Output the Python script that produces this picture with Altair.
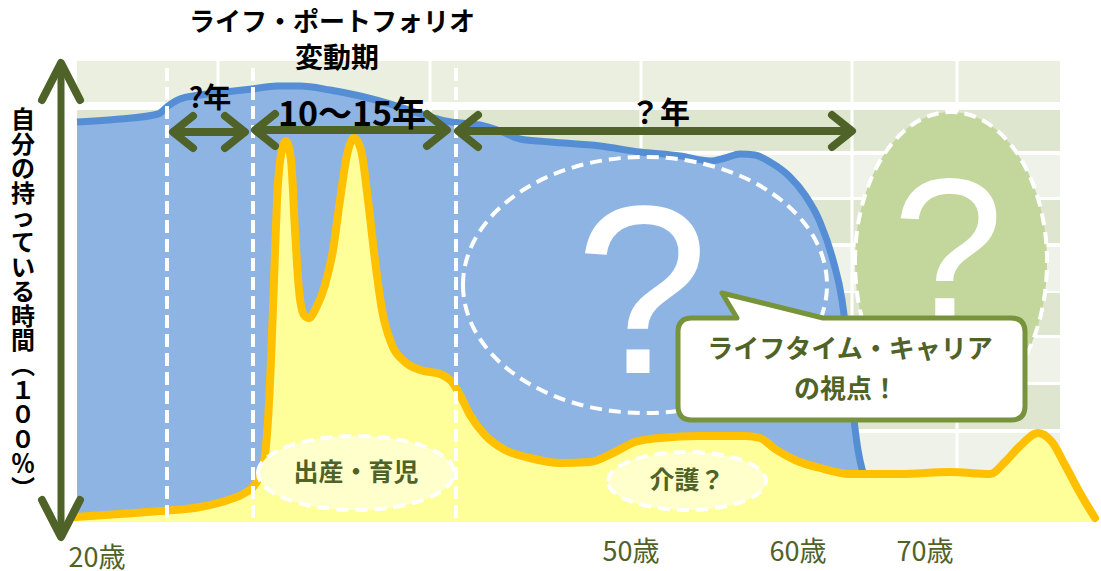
import altair as alt
import pandas as pd

W, H = 1101, 571

# ---------------- data (positions) ----------------
# background "brick" grid rows
row_top = [61, 110, 155, 200, 247, 293, 338, 385, 433, 478]
row_bottom = [102, 151, 197, 243, 291, 335, 382, 429, 475, 522]
row_shade = ["light", "dark", "pale", "dark", "pale", "dark", "pale", "dark", "pale", "dark"]
grid_left, grid_right = 77, 1060
joint_x = [218, 430, 641, 852, 957]

# blue area: "own time" envelope
blue_x = [77, 120, 158, 168, 180, 200, 225, 252, 277, 300, 330, 360, 400, 430, 445, 460,
          480, 500, 520, 550, 600, 640, 680, 710, 725, 740, 755, 770, 790, 805, 820, 833,
          842, 848, 853, 858, 863]
blue_y = [122, 119, 114, 106, 99, 95, 92, 89, 86, 86, 90, 96, 107, 117, 121, 123,
          125, 131, 139, 142, 146, 152, 156, 161, 158, 154, 155, 162, 177, 195, 222, 260,
          300, 350, 410, 450, 473]

# yellow area: life events curve
yellow_x = [75, 120, 160, 200, 228, 245, 253, 260, 265, 268, 271, 274, 277, 281, 286, 291,
            295, 299, 304, 309, 316, 325, 333, 340, 347, 354, 361, 368, 375, 382, 392, 405,
            420, 440, 452, 460, 470, 485, 505, 530, 560, 590, 615, 635, 660, 700, 745, 760,
            775, 795, 820, 850, 900, 950, 990, 1005, 1020, 1038, 1052, 1065, 1080, 1095]
yellow_y = [517, 514, 511, 507, 500, 493, 487, 475, 455, 420, 360, 280, 200, 155, 141, 160,
            230, 290, 315, 318, 308, 285, 250, 200, 155, 138, 150, 200, 260, 310, 345, 362,
            370, 374, 382, 395, 415, 435, 450, 458, 463, 462, 452, 442, 438, 436, 436, 438,
            449, 460, 468, 474, 474, 472, 474, 462, 446, 433, 442, 465, 493, 518]

# dashed period boundaries
period_x = [167, 253, 456]
period_top, period_bottom = 68, 520

# horizontal double arrows
arrow_left = [173, 255, 458]
arrow_right = [245, 447, 852]
arrow_y = [132, 130, 131]
arrow_labels = ["?年", "10～15年", "？年"]
arrow_label_x = [210, 352, 660]
arrow_label_y = [100, 116, 114]
arrow_label_size = [28, 34, 30]

# ellipses
big_q = {"x": [645], "y": [285]}
green_q = {"x": [951], "y": [262]}
birth = {"x": [356], "y": [473], "label": ["出産・育児"]}
care = {"x": [687], "y": [481], "label": ["介護？"]}

# speech bubble
bubble = {"x": [851.5], "y": [369]}
bubble_lines = ["ライフタイム・キャリア", "の視点！"]
bubble_line_x = [850, 846]
bubble_line_y = [350, 390]

# y axis arrow and label
yaxis_x = 61
yaxis_top, yaxis_bottom = 63, 537
ylabel = "自分の持っている時間︵１００％︶"
ylabel_top = 109

# x labels
age_labels = ["20歳", "50歳", "60歳", "70歳"]
age_x = [97, 631, 798, 925]
age_y = [559, 553, 553, 553]

title_lines = ["ライフ・ポートフォリオ", "変動期"]
title_x = [332, 337]
title_y = [23, 60]
title_size = [26, 28]

# ---------------- styles ----------------
OLIVE = "#4F6228"
OLIVE2 = "#77933C"
BLUE_FILL = "#8DB4E3"
BLUE_LINE = "#558ED5"
YEL_FILL = "#FFFF99"
YEL_LINE = "#FFC000"
JP = "Noto Sans CJK JP"

XS = alt.Scale(domain=[0, W], nice=False, zero=False)
YS = alt.Scale(domain=[0, H], nice=False, zero=False, reverse=True)


def X(f="x"):
    return alt.X(f"{f}:Q", scale=XS, axis=None)


def Y(f="y"):
    return alt.Y(f"{f}:Q", scale=YS, axis=None)


def ellipse_path(rx, ry):
    k = 0.5523
    return (f"M {-rx} 0 C {-rx} {-k*ry:.2f} {-k*rx:.2f} {-ry} 0 {-ry} "
            f"C {k*rx:.2f} {-ry} {rx} {-k*ry:.2f} {rx} 0 "
            f"C {rx} {k*ry:.2f} {k*rx:.2f} {ry} 0 {ry} "
            f"C {-k*rx:.2f} {ry} {-rx} {k*ry:.2f} {-rx} 0 Z")


def bubble_path(hw, hh, r, pl, tip_x, tip_y, pr):
    return (f"M {-hw + r} {-hh} L {pl} {-hh} L {tip_x} {tip_y} L {pr} {-hh} "
            f"L {hw - r} {-hh} Q {hw} {-hh} {hw} {-hh + r} L {hw} {hh - r} "
            f"Q {hw} {hh} {hw - r} {hh} L {-hw + r} {hh} Q {-hw} {hh} {-hw} {hh - r} "
            f"L {-hw} {-hh + r} Q {-hw} {-hh} {-hw + r} {-hh} Z")


def chevron(depth, half):
    return f"M {-depth} {-half} L 0 0 L {-depth} {half}"


layers = []

# background grid
grid_df = pd.DataFrame({"x0": grid_left, "x1": grid_right, "top": row_top,
                        "bottom": row_bottom, "shade": row_shade})
layers.append(alt.Chart(grid_df).mark_rect().encode(
    x=X("x0"), x2="x1:Q", y=Y("top"), y2="bottom:Q",
    color=alt.Color("shade:N", legend=None,
                    scale=alt.Scale(domain=["light", "dark", "pale"],
                                    range=["#EAEFDF", "#DEE6D0", "#EEF2E8"]))))
joint_df = pd.DataFrame({"x": joint_x, "top": row_top[0], "bottom": row_bottom[-1]})
layers.append(alt.Chart(joint_df).mark_rule(color="white", strokeWidth=3).encode(
    x=X(), y=Y("top"), y2="bottom:Q"))

# green ellipse with question mark
layers.append(alt.Chart(pd.DataFrame(green_q)).mark_point(
    shape=ellipse_path(96, 150), size=4, filled=True, fill="#C3D69B", stroke="white",
    strokeWidth=4, strokeDash=[12, 7], opacity=1).encode(x=X(), y=Y()))

# blue area
blue_df = pd.DataFrame({"x": blue_x, "y": blue_y, "base": 520})
layers.append(alt.Chart(blue_df).mark_area(color=BLUE_FILL, interpolate="monotone").encode(
    x=X(), y=Y(), y2="base:Q"))
layers.append(alt.Chart(blue_df).mark_line(color=BLUE_LINE, strokeWidth=7,
                                           interpolate="monotone").encode(x=X(), y=Y()))

# big blue ellipse
layers.append(alt.Chart(pd.DataFrame(big_q)).mark_point(
    shape=ellipse_path(182, 128), size=4, filled=True, fill=BLUE_FILL, stroke="white",
    strokeWidth=4, strokeDash=[12, 7], opacity=1).encode(x=X(), y=Y()))

# question marks
q_df = pd.DataFrame({"x": [642, 948], "y": [373, 318], "s": [240, 200], "t": ["?", "?"]})
for i in range(2):
    layers.append(alt.Chart(q_df.iloc[[i]]).mark_text(
        font="Liberation Sans", fontSize=int(q_df.s[i]), color="white", align="center",
        baseline="alphabetic").encode(x=X(), y=Y(), text="t:N"))

# yellow area
yel_df = pd.DataFrame({"x": yellow_x, "y": yellow_y, "base": 522})
layers.append(alt.Chart(yel_df).mark_area(color=YEL_FILL, interpolate="monotone").encode(
    x=X(), y=Y(), y2="base:Q"))
layers.append(alt.Chart(yel_df).mark_line(color=YEL_LINE, strokeWidth=8, strokeCap="round",
                                          interpolate="monotone").encode(x=X(), y=Y()))

# dashed period lines
per_df = pd.DataFrame({"x": period_x, "top": period_top, "bottom": period_bottom})
layers.append(alt.Chart(per_df).mark_rule(color="white", strokeWidth=4,
                                          strokeDash=[13, 6]).encode(
    x=X(), y=Y("top"), y2="bottom:Q"))

# small labelled ellipses
for d, rx, ry in [(birth, 98, 37), (care, 79, 29)]:
    df = pd.DataFrame(d)
    layers.append(alt.Chart(df).mark_point(
        shape=ellipse_path(rx, ry), size=4, filled=True, fill="#FFFFCC", stroke="white",
        strokeWidth=4, strokeDash=[12, 7], opacity=1).encode(x=X(), y=Y()))
    layers.append(alt.Chart(df).mark_text(
        font=JP, fontSize=25, fontWeight="bold", color=OLIVE, align="center",
        baseline="middle").encode(x=X(), y=Y(), text="label:N"))

# horizontal arrows
arr_df = pd.DataFrame({"x": arrow_left, "x2": arrow_right, "y": arrow_y})
layers.append(alt.Chart(arr_df).mark_rule(color=OLIVE, strokeWidth=8).encode(
    x=X(), x2="x2:Q", y=Y()))
heads = pd.DataFrame({"x": arrow_left + arrow_right, "y": arrow_y + arrow_y,
                      "ang": [180] * 3 + [0] * 3})
layers.append(alt.Chart(heads).mark_point(
    shape=chevron(20, 16), size=4, filled=False, stroke=OLIVE, strokeWidth=8,
    strokeCap="round", strokeJoin="round", opacity=1).encode(
    x=X(), y=Y(), angle=alt.Angle("ang:Q", scale=None)))
lab_df = pd.DataFrame({"x": arrow_label_x, "y": arrow_label_y, "t": arrow_labels,
                       "s": arrow_label_size})
for i in range(3):
    layers.append(alt.Chart(lab_df.iloc[[i]]).mark_text(
        font=JP, fontSize=int(lab_df.s[i]), fontWeight="bold", color="black",
        align="center", baseline="middle").encode(x=X(), y=Y(), text="t:N"))

# speech bubble
layers.append(alt.Chart(pd.DataFrame(bubble)).mark_point(
    shape=bubble_path(173.5, 51, 14, -114.5, -129.5, -76, -28.5), size=4, filled=True,
    fill="white", stroke=OLIVE2, strokeWidth=5, strokeJoin="round", opacity=1).encode(
    x=X(), y=Y()))
bl_df = pd.DataFrame({"x": bubble_line_x, "y": bubble_line_y, "t": bubble_lines})
layers.append(alt.Chart(bl_df).mark_text(
    font=JP, fontSize=26, fontWeight="bold", color=OLIVE, align="center",
    baseline="middle").encode(x=X(), y=Y(), text="t:N"))

# y axis double arrow
ya_df = pd.DataFrame({"x": [yaxis_x], "top": [yaxis_top], "bottom": [yaxis_bottom]})
layers.append(alt.Chart(ya_df).mark_rule(color=OLIVE, strokeWidth=7).encode(
    x=X(), y=Y("top"), y2="bottom:Q"))
yh_df = pd.DataFrame({"x": [yaxis_x, yaxis_x], "y": [yaxis_top, yaxis_bottom],
                      "ang": [270, 90]})
layers.append(alt.Chart(yh_df).mark_point(
    shape=chevron(37, 19), size=4, filled=False, stroke=OLIVE, strokeWidth=8,
    strokeCap="round", strokeJoin="round", opacity=1).encode(
    x=X(), y=Y(), angle=alt.Angle("ang:Q", scale=None)))

# vertical y label (one character per line)
yl_df = pd.DataFrame({"x": [23], "y": [ylabel_top], "t": ["\n".join(list(ylabel))]})
layers.append(alt.Chart(yl_df).mark_text(
    font=JP, fontSize=24, fontWeight="bold", color="black", align="center",
    baseline="top", lineBreak="\n", lineHeight=24.6).encode(x=X(), y=Y(), text="t:N"))

# age labels
age_df = pd.DataFrame({"x": age_x, "y": age_y, "t": age_labels})
layers.append(alt.Chart(age_df).mark_text(
    font=JP, fontSize=27, color=OLIVE, align="center", baseline="middle").encode(
    x=X(), y=Y(), text="t:N"))

# title
ti_df = pd.DataFrame({"x": title_x, "y": title_y, "t": title_lines, "s": title_size})
for i in range(2):
    layers.append(alt.Chart(ti_df.iloc[[i]]).mark_text(
        font=JP, fontSize=int(ti_df.s[i]), fontWeight="bold", color="black",
        align="center", baseline="middle").encode(x=X(), y=Y(), text="t:N"))

chart = alt.layer(*layers).properties(
    width=W, height=H, padding=0, background="white",
    autosize=alt.AutoSizeParams(type="none")
).configure_view(stroke=None)

chart.save("out.html", embed_options={"renderer": "svg", "actions": False})
